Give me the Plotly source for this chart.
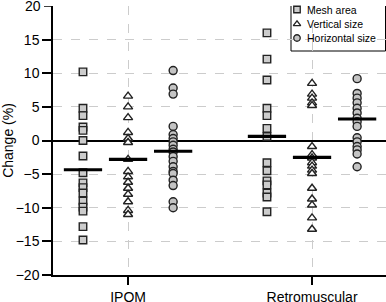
import plotly.graph_objects as go

categories = ["IPOM", "Retromuscular"]
series_names = ["Mesh area", "Vertical size", "Horizontal size"]

ipom_mesh = [10.2, 4.8, 3.7, 2.0, 1.5, 0.0, -2.3, -4.8, -6.3, -7.0, -7.8, -9.0, -9.9, -10.5, -12.8, -14.8]
ipom_vert = [6.6, 5.0, 3.4, 1.2, 0.3, -0.3, -2.8, -4.6, -5.4, -6.2, -7.1, -8.0, -9.1, -10.4, -11.0]
ipom_horiz = [10.4, 7.8, 6.9, 2.1, 0.9, 0.3, -0.2, -0.7, -1.3, -1.7, -2.4, -3.1, -3.9, -4.6, -4.9, -5.9, -6.7, -9.1, -10.0]
retro_mesh = [16.0, 12.1, 9.0, 4.8, 3.7, 1.8, 0.6, -3.3, -4.5, -6.0, -6.6, -7.8, -8.4, -10.6]
retro_vert = [8.5, 6.9, 6.3, 5.6, 5.2, -0.9, -2.1, -2.6, -3.3, -3.8, -4.4, -4.9, -7.1, -8.7, -9.6, -11.5, -13.2]
retro_horiz = [9.2, 7.0, 6.3, 5.6, 4.8, 4.1, 3.3, 2.8, 2.1, 0.4, -0.2, -0.9, -1.4, -2.0, -3.9]

ipom_means = [-4.35, -2.8, -1.6]
retro_means = [0.6, -2.5, 3.2]

y_ticks = [20, 15, 10, 5, 0, -5, -10, -15, -20]

data = {
    "IPOM": [ipom_mesh, ipom_vert, ipom_horiz],
    "Retromuscular": [retro_mesh, retro_vert, retro_horiz],
}
means = {"IPOM": ipom_means, "Retromuscular": retro_means}

symbols = ["square", "triangle-up", "circle"]
fills = ["#cccccc", "#ffffff", "#c4c4c4"]
sizes = [7.5, 8, 8]
offsets = [-0.245, 0.0, 0.245]
half_bar = 0.104

# plot area in pixels (layout)
W, H = 386, 302
L, R, T, B = 53, 0, 6, 27
plot_w = W - L - R

fig = go.Figure()
for s, name in enumerate(series_names):
    xs, ys = [], []
    for ci, cat in enumerate(categories):
        vals = data[cat][s]
        xs += [ci + offsets[s]] * len(vals)
        ys += vals
    fig.add_trace(go.Scatter(
        x=xs, y=ys, mode="markers", name=name, showlegend=False,
        marker=dict(symbol=symbols[s], size=sizes[s], color=fills[s],
                    line=dict(color="#222222", width=1.4)),
    ))

bx, by = [], []
for ci, cat in enumerate(categories):
    for s in range(3):
        c = ci + offsets[s]
        bx += [c - half_bar, c + half_bar, None]
        by += [means[cat][s], means[cat][s], None]
fig.add_trace(go.Scatter(x=bx, y=by, mode="lines", showlegend=False,
                         line=dict(color="black", width=3.2), hoverinfo="skip"))

# manual compact legend on a pixel-coordinate overlay axis
leg_left, leg_right, leg_top, leg_bottom = 291, 386, 0, 51
leg_sym_x = 297
leg_text_x = 305
leg_rows = [9.5, 24, 38]
for s, name in enumerate(series_names):
    fig.add_trace(go.Scatter(
        x=[leg_sym_x], y=[leg_rows[s]], xaxis="x2", yaxis="y2", mode="markers",
        showlegend=False, hoverinfo="skip", cliponaxis=False,
        marker=dict(symbol=symbols[s], size=6.5, color=fills[s],
                    line=dict(color="#222222", width=1.3)),
    ))
    fig.add_annotation(x=leg_text_x, y=leg_rows[s], xref="x2", yref="y2",
                       text=name, showarrow=False, xanchor="left", yanchor="middle",
                       font=dict(size=10.5, color="black"))

fig.add_shape(type="rect", xref="x2", yref="y2", x0=leg_left, x1=leg_right - 0.5,
              y0=leg_top + 0.5, y1=leg_bottom, line=dict(color="black", width=1),
              fillcolor="white", layer="below")

# top tick (20) which plotly drops at the very edge of the page
top_tick = y_ticks[0]
fig.add_annotation(x=0, xref="paper", xanchor="right", xshift=-10,
                   y=top_tick, yref="y", yanchor="middle", showarrow=False,
                   text=str(top_tick), font=dict(size=14, color="black"))
fig.add_shape(type="line", xref="paper", x0=-9 / plot_w, x1=0,
              yref="y", y0=top_tick, y1=top_tick,
              line=dict(color="black", width=1.5))

fig.update_layout(
    width=W, height=H,
    margin=dict(l=L, r=R, t=T, b=B, autoexpand=False),
    paper_bgcolor="white", plot_bgcolor="white",
    font=dict(family="Liberation Sans, Arial", size=13, color="black"),
    showlegend=False,
    xaxis2=dict(overlaying="x", range=[L, W - R], visible=False, fixedrange=True),
    yaxis2=dict(overlaying="y", range=[H - B, T], visible=False, fixedrange=True),
)
fig.update_layout(xaxis=dict(
    range=[-0.408, 1.402], tickvals=[0, 1], ticktext=categories,
    showgrid=True, gridcolor="#cccccc", griddash="dash", gridwidth=1,
    zeroline=False, showline=True, linecolor="black", linewidth=1.5,
    ticks="outside", ticklen=8, tickcolor="black", tickwidth=1.5,
    tickfont=dict(size=14), automargin=False,
))
fig.update_layout(yaxis=dict(
    range=[-20, 20], tickvals=y_ticks[1:],
    showgrid=True, gridcolor="#cccccc", griddash="dash", gridwidth=1,
    zeroline=True, zerolinecolor="black", zerolinewidth=1.5,
    showline=True, linecolor="black", linewidth=1.5,
    ticks="outside", ticklen=9, tickcolor="black", tickwidth=1.5,
    tickfont=dict(size=14), automargin=False,
    title=dict(text="Change (%)", font=dict(size=14), standoff=4),
))
fig.write_html(
    "out.html",
    config={"displayModeBar": False},
    post_script="document.body.style.margin='0';document.body.style.overflow='hidden';",
)
